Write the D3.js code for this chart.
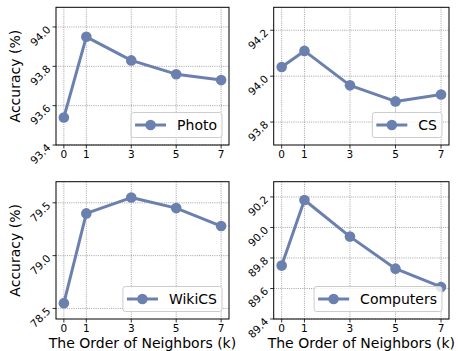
<!DOCTYPE html>
<html>
<head>
<meta charset="utf-8">
<script src="https://cdn.jsdelivr.net/npm/d3@7"></script>
<style>
  html, body { margin: 0; padding: 0; background: #fff; }
  svg { display: block; font-family: "DejaVu Sans", sans-serif; }
</style>
</head>
<body>
<svg id="chart" width="458" height="351"></svg>
<script>
const kValues = [0, 1, 3, 5, 7];
const photo = [93.54, 93.95, 93.83, 93.76, 93.73];
const cs = [94.04, 94.11, 93.96, 93.89, 93.92];
const wikics = [78.55, 79.40, 79.55, 79.45, 79.28];
const computers = [89.75, 90.18, 89.94, 89.73, 89.61];

const photoTicks = [93.4, 93.6, 93.8, 94.0];
const csTicks = [93.8, 94.0, 94.2];
const wikicsTicks = [78.5, 79.0, 79.5];
const computersTicks = [89.4, 89.6, 89.8, 90.0, 90.2];

const panels = [
  { name: "Photo", values: photo, ticks: photoTicks, domain: [93.4, 94.1], fmt: ".1f",
    box: [56, 7.3, 229, 145], ylabel: true, xlabel: false },
  { name: "CS", values: cs, ticks: csTicks, domain: [93.7, 94.3], fmt: ".1f",
    box: [273.7, 7.3, 449, 145], ylabel: false, xlabel: false },
  { name: "WikiCS", values: wikics, ticks: wikicsTicks, domain: [78.4, 79.7], fmt: ".1f",
    box: [56, 181.7, 229, 319], ylabel: true, xlabel: true },
  { name: "Computers", values: computers, ticks: computersTicks, domain: [89.4, 90.3], fmt: ".1f",
    box: [273.7, 181.7, 449, 319], ylabel: false, xlabel: true }
];

const color = "#6c80b0";
const svg = d3.select("#chart");

panels.forEach(p => {
  const [x0, y0, x1, y1] = p.box;
  const x = d3.scaleLinear().domain([-0.35, 7.35]).range([x0, x1]);
  const y = d3.scaleLinear().domain(p.domain).range([y1, y0]);
  const g = svg.append("g");

  // grid
  g.selectAll(".gx").data(kValues).enter().append("line")
    .attr("x1", d => x(d)).attr("x2", d => x(d))
    .attr("y1", y0).attr("y2", y1)
    .attr("stroke", "#8a8a8a").attr("stroke-width", 0.8)
    .attr("stroke-dasharray", "1,1.2");
  g.selectAll(".gy").data(p.ticks).enter().append("line")
    .attr("x1", x0).attr("x2", x1)
    .attr("y1", d => y(d)).attr("y2", d => y(d))
    .attr("stroke", "#8a8a8a").attr("stroke-width", 0.8)
    .attr("stroke-dasharray", "1,1.2");

  // series line + markers
  const line = d3.line().x((d, i) => x(kValues[i])).y(d => y(d));
  g.append("path").datum(p.values)
    .attr("d", line).attr("fill", "none")
    .attr("stroke", color).attr("stroke-width", 3)
    .attr("stroke-linejoin", "round");
  g.selectAll(".pt").data(p.values).enter().append("circle")
    .attr("cx", (d, i) => x(kValues[i])).attr("cy", d => y(d))
    .attr("r", 5.3).attr("fill", color);

  // frame
  g.append("rect").attr("x", x0).attr("y", y0)
    .attr("width", x1 - x0).attr("height", y1 - y0)
    .attr("fill", "none").attr("stroke", "#000").attr("stroke-width", 1);

  // x ticks
  const xt = g.selectAll(".xt").data(kValues).enter().append("g");
  xt.append("line").attr("x1", d => x(d)).attr("x2", d => x(d))
    .attr("y1", y1).attr("y2", y1 + 3.5).attr("stroke", "#000").attr("stroke-width", 0.8);
  xt.append("text").attr("x", d => x(d)).attr("y", y1 + 12.5)
    .attr("text-anchor", "middle").attr("font-size", 10.5).attr("fill", "#000")
    .text(d => d);

  // y ticks
  const yt = g.selectAll(".yt").data(p.ticks).enter().append("g");
  yt.append("line").attr("x1", x0 - 3.5).attr("x2", x0)
    .attr("y1", d => y(d)).attr("y2", d => y(d)).attr("stroke", "#000").attr("stroke-width", 0.8);
  yt.append("text")
    .attr("transform", d => `translate(${x0 - 7.5},${y(d) + 0.5}) rotate(-45)`)
    .attr("text-anchor", "end").attr("dominant-baseline", "central")
    .attr("font-size", 10.5).attr("fill", "#000")
    .text(d => d3.format(p.fmt)(d));

  // axis labels
  if (p.ylabel) {
    g.append("text")
      .attr("transform", `translate(${19.5},${(y0 + y1) / 2}) rotate(-90)`)
      .attr("text-anchor", "middle").attr("font-size", 14).attr("fill", "#000")
      .text("Accuracy (%)");
  }
  if (p.xlabel) {
    g.append("text").attr("x", (x0 + x1) / 2).attr("y", y1 + 28.5)
      .attr("text-anchor", "middle").attr("font-size", 14).attr("fill", "#000")
      .text("The Order of Neighbors (k)");
  }

  // legend
  const lg = g.append("g");
  const bg = lg.append("rect");
  const txt = lg.append("text").attr("font-size", 14).attr("fill", "#000")
    .attr("dominant-baseline", "central").text(p.name);
  const tw = txt.node().getComputedTextLength();
  const bw = 4 + 31 + 11 + tw + 5, bh = 25;
  const bx = x1 - 7 - bw, by = y1 - 7.5 - bh;
  bg.attr("x", bx).attr("y", by).attr("width", bw).attr("height", bh)
    .attr("rx", 2.5).attr("fill", "rgba(255,255,255,0.8)")
    .attr("stroke", "#cccccc").attr("stroke-width", 1);
  lg.append("line").attr("x1", bx + 4).attr("x2", bx + 35)
    .attr("y1", by + bh / 2).attr("y2", by + bh / 2)
    .attr("stroke", color).attr("stroke-width", 3);
  lg.append("circle").attr("cx", bx + 19.5).attr("cy", by + bh / 2).attr("r", 5.3).attr("fill", color);
  txt.attr("x", bx + 46).attr("y", by + bh / 2);
});
</script>
</body>
</html>
